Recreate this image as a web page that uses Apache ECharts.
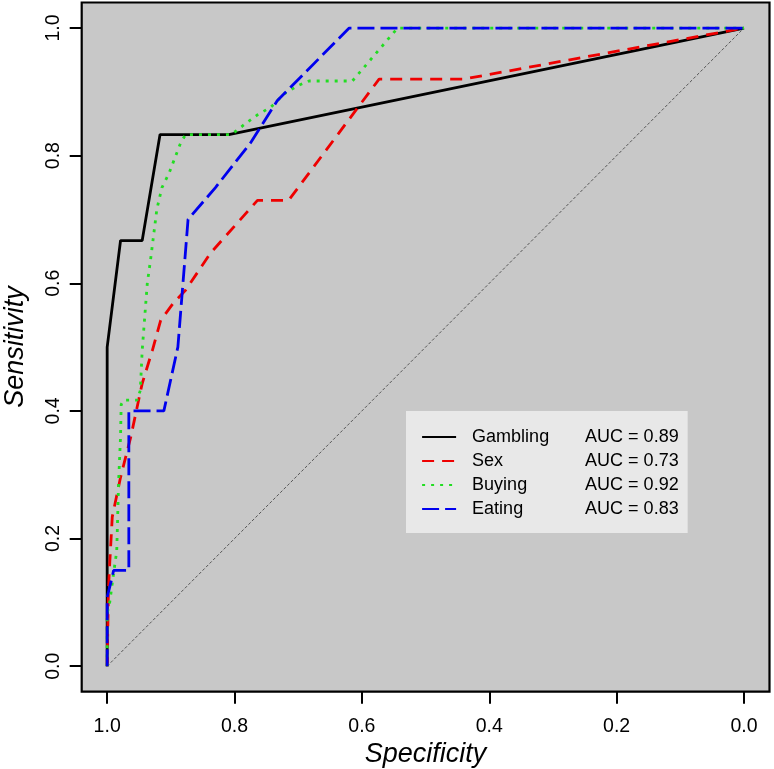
<!DOCTYPE html>
<html>
<head>
<meta charset="utf-8">
<script src="https://cdn.jsdelivr.net/npm/echarts@6/dist/echarts.min.js"></script>
<style>
html,body{margin:0;padding:0;background:#fff;}
#chart{width:774px;height:769px;}
</style>
</head>
<body>
<div id="chart"></div>
<script>
// ---- data (specificity, sensitivity) ----
const seriesNames = ['Gambling', 'Sex', 'Buying', 'Eating'];
const aucValues = ['0.89', '0.73', '0.92', '0.83'];
const tickValues = [0, 0.2, 0.4, 0.6, 0.8, 1.0];

const gamblingSpec = [1.0, 1.0, 0.979, 0.945, 0.917, 0.809, 0.0];
const gamblingSens = [0.0, 0.5, 0.667, 0.667, 0.833, 0.833, 1.0];

const sexSpec = [1.0, 0.998, 0.996, 0.992, 0.979, 0.963, 0.945, 0.929, 0.916, 0.896, 0.877, 0.838, 0.764, 0.715, 0.573, 0.44, 0.0];
const sexSens = [0.0, 0.12, 0.161, 0.234, 0.296, 0.359, 0.443, 0.495, 0.542, 0.569, 0.589, 0.647, 0.730, 0.730, 0.920, 0.920, 1.0];

const buyingSpec = [1.0, 1.0, 0.996, 0.99, 0.985, 0.982, 0.979, 0.978, 0.974, 0.953, 0.948, 0.945, 0.937, 0.932, 0.922, 0.914, 0.903, 0.895, 0.885, 0.877, 0.806, 0.797, 0.782, 0.764, 0.743, 0.722, 0.70, 0.683, 0.615, 0.544, 0.0];
const buyingSens = [0.0, 0.083, 0.1, 0.145, 0.18, 0.29, 0.36, 0.41, 0.417, 0.417, 0.432, 0.495, 0.6, 0.636, 0.716, 0.75, 0.772, 0.793, 0.819, 0.833, 0.833, 0.839, 0.851, 0.864, 0.876, 0.897, 0.910, 0.917, 0.917, 1.0, 1.0];

const eatingSpec = [1.0, 1.0, 0.992, 0.99, 0.966, 0.966, 0.911, 0.889, 0.873, 0.83, 0.775, 0.733, 0.62, 0.0];
const eatingSens = [0.0, 0.108, 0.14, 0.15, 0.15, 0.4, 0.4, 0.5, 0.7, 0.75, 0.82, 0.886, 1.0, 1.0];

const diagSpec = [1.0, 0.0];
const diagSens = [0.0, 1.0];

const pairs = (xs, ys) => xs.map((x, i) => [x, ys[i]]);
const FONT = "'Liberation Sans', Arial, Helvetica, sans-serif";

const styles = [
  {color: '#000000', type: 'solid', width: 2.8},
  {color: '#ee0000', type: [12, 8], width: 2.8},
  {color: '#22dd22', type: [3, 6], width: 2.8},
  {color: '#0000ee', type: [17, 6], width: 2.8}
];
const dataSets = [
  pairs(gamblingSpec, gamblingSens),
  pairs(sexSpec, sexSens),
  pairs(buyingSpec, buyingSens),
  pairs(eatingSpec, eatingSens)
];

const series = [{
  name: 'diag',
  type: 'line',
  data: pairs(diagSpec, diagSens),
  symbol: 'none',
  lineStyle: {color: '#555555', width: 1, type: [3, 2]},
  silent: true,
  z: 1
}];
seriesNames.forEach((n, i) => {
  series.push({
    name: n,
    type: 'line',
    data: dataSets[i],
    symbol: 'none',
    lineStyle: {color: styles[i].color, width: styles[i].width, type: styles[i].type, cap: 'butt'},
    itemStyle: {color: styles[i].color},
    silent: true,
    z: 2 + i
  });
});

const chart = echarts.init(document.getElementById('chart'), null, {renderer: 'canvas'});
chart.setOption({
  animation: false,
  backgroundColor: '#ffffff',
  textStyle: {fontFamily: FONT},
  grid: {
    left: 81.7, top: 2.5, right: 4.5, bottom: 77.3,
    show: true, backgroundColor: '#c8c8c8', borderColor: '#000', borderWidth: 2.2,
    containLabel: false,
    outerBoundsMode: 'none'
  },
  xAxis: {
    type: 'value', inverse: true, min: -0.04, max: 1.04,
    axisLine: {show: false, onZero: false},
    splitLine: {show: false},
    axisTick: {show: true, customValues: tickValues, length: 12, lineStyle: {color: '#000', width: 2}},
    axisLabel: {customValues: tickValues, formatter: v => v.toFixed(1), fontSize: 19.5, color: '#000', margin: 24.5, fontFamily: FONT},
    name: 'Specificity', nameLocation: 'middle', nameGap: 49,
    nameTextStyle: {fontSize: 27, fontStyle: 'italic', color: '#000', fontFamily: FONT}
  },
  yAxis: {
    type: 'value', min: -0.04, max: 1.04,
    axisLine: {show: false, onZero: false},
    splitLine: {show: false},
    axisTick: {show: true, customValues: tickValues, length: 12, lineStyle: {color: '#000', width: 2}},
    axisLabel: {customValues: tickValues, formatter: v => v.toFixed(1), fontSize: 19.5, color: '#000', margin: 18, rotate: 90, fontFamily: FONT},
    name: 'Sensitivity', nameLocation: 'middle', nameGap: 53, nameRotate: 90,
    nameTextStyle: {fontSize: 27, fontStyle: 'italic', color: '#000', fontFamily: FONT}
  },
  legend: {
    data: seriesNames,
    orient: 'vertical',
    left: 406, top: 411,
    padding: [14, 9, 12, 15],
    backgroundColor: '#e8e8e8',
    itemWidth: 34, itemHeight: 14, itemGap: 0,
    selectedMode: false,
    itemStyle: {color: 'rgba(0,0,0,0)', borderColor: 'rgba(0,0,0,0)', borderWidth: 0},
    lineStyle: {width: 2.2},
    formatter: name => `{s| }{n|${name}}{a|AUC = ${aucValues[seriesNames.indexOf(name)]}}`,
    textStyle: {
      fontSize: 18, color: '#000', fontFamily: FONT, lineHeight: 24,
      rich: {
        s: {width: 11, fontSize: 18, lineHeight: 24},
        n: {width: 113, fontSize: 18, lineHeight: 24, fontFamily: FONT},
        a: {fontSize: 18, lineHeight: 24, fontFamily: FONT}
      }
    }
  },
  series: series
});
</script>
</body>
</html>
